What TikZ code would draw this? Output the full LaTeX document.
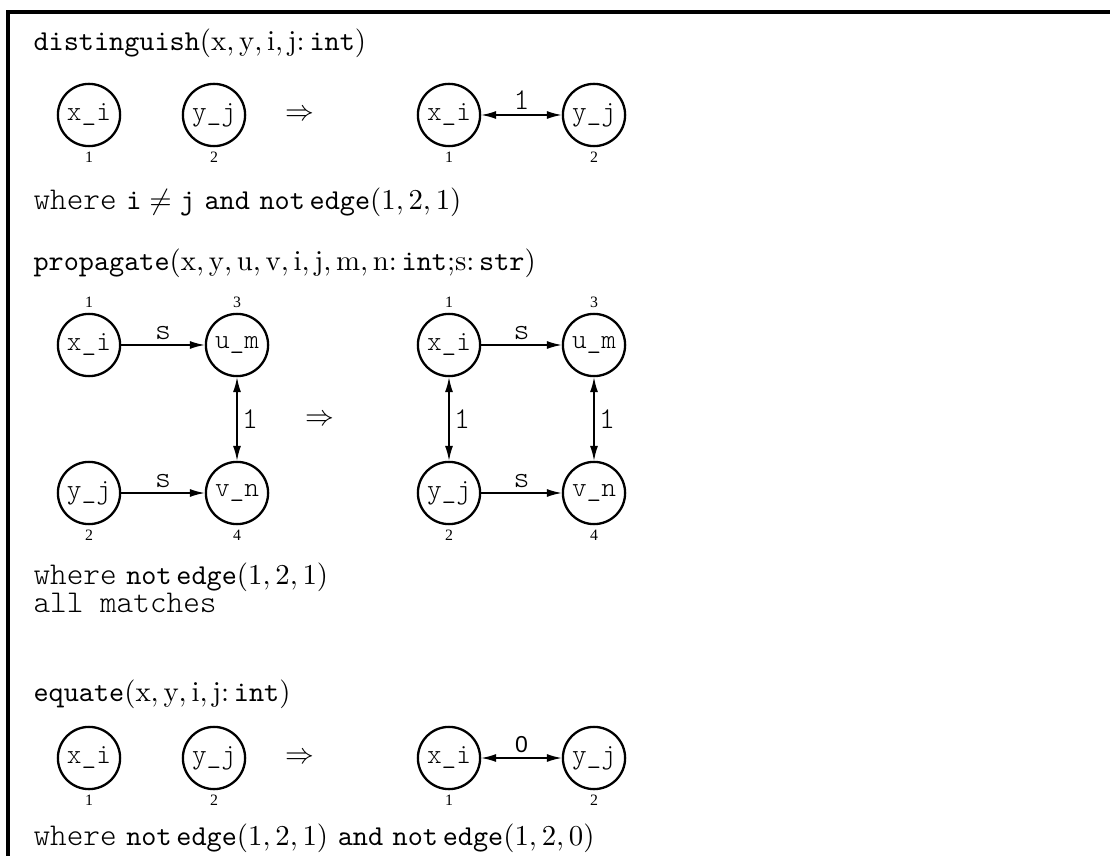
\documentclass[tikz,border=0pt]{standalone}
\usepackage{fontspec}
\newcommand\cour{\ttfamily\fontseries{l}\selectfont}
\newfontfamily\timesf{Liberation Serif}
\newfontfamily\helv{Liberation Sans}
\usetikzlibrary{arrows.meta,positioning}

\begin{document}
\begin{tikzpicture}[x=0.3472pt, y=-0.3472pt,
  gnode/.style={circle, draw, line width=0.8pt, minimum size=21.6pt, inner sep=0pt,
                font=\cour\fontsize{9.7}{11}\selectfont},
  idx/.style={inner sep=0pt, font=\timesf\fontsize{5.5}{6}\selectfont},
  elab/.style={inner sep=1.5pt, font=\cour\fontsize{10.5}{12}\selectfont},
  txt/.style={anchor=base west, inner sep=0pt},
  arr/.style={line width=0.5pt, -{Latex[length=5.2pt,width=2.8pt]}},
  barr/.style={line width=0.5pt, {Latex[length=5.2pt,width=2.8pt]}-{Latex[length=5.2pt,width=2.8pt]}}]
\useasboundingbox (0,0) rectangle (1110,856);
\draw[line width=1.2pt] (1110,12) -- (8,12) -- (8,856);

\node[txt] (h1) at (33,51) {\texttt{distinguish}$(\mathrm{x},\mathrm{y},\mathrm{i},\mathrm{j}\colon\mathtt{int})$};
\node[gnode] (dx) at (89,115) {x\_i};
\node[gnode] (dy) at (214,115) {y\_j};
\node (dr) at (300,115) {$\Rightarrow$};
\node[gnode] (dx') at (449,115) {x\_i};
\node[gnode] (dy') at (594,115) {y\_j};
\node[idx, below=1.5pt of dx] (dn1) {1};
\node[idx, below=1.5pt of dy] (dn2) {2};
\node[idx, below=1.5pt of dx'] (dn1') {1};
\node[idx, below=1.5pt of dy'] (dn2') {2};
\draw[barr] (dx') -- node[elab, above] (dl) {1} (dy');
\node[txt] (w1) at (33,210) {{\cour\fontsize{11}{13}\selectfont where} $\mathtt{i}\neq\mathtt{j}$ \texttt{and} \texttt{not}\,\texttt{edge}$(1,2,1)$};

\node[txt] (h2) at (33,271) {\texttt{propagate}$(\mathrm{x},\mathrm{y},\mathrm{u},\mathrm{v},\mathrm{i},\mathrm{j},\mathrm{m},\mathrm{n}\colon\mathtt{int}{;}\mathrm{s}\colon\mathtt{str})$};
\node[gnode] (px) at (89,345) {x\_i};
\node[gnode] (pu) at (237,345) {u\_m};
\node[gnode] (py) at (89,493) {y\_j};
\node[gnode] (pv) at (237,493) {v\_n};
\node (pr) at (320,420) {$\Rightarrow$};
\node[gnode] (px') at (449,345) {x\_i};
\node[gnode] (pu') at (594,345) {u\_m};
\node[gnode] (py') at (449,493) {y\_j};
\node[gnode] (pv') at (594,493) {v\_n};
\node[idx, above=1.5pt of px] (pn1) {1};
\node[idx, above=1.5pt of pu] (pn3) {3};
\node[idx, below=1.5pt of py] (pn2) {2};
\node[idx, below=1.5pt of pv] (pn4) {4};
\node[idx, above=1.5pt of px'] (pn1') {1};
\node[idx, above=1.5pt of pu'] (pn3') {3};
\node[idx, below=1.5pt of py'] (pn2') {2};
\node[idx, below=1.5pt of pv'] (pn4') {4};
\draw[arr] (px) -- node[elab, above] (ps1) {s} (pu);
\draw[arr] (py) -- node[elab, above] (ps2) {s} (pv);
\draw[barr] (pu) -- node[elab, right] (pl1) {1} (pv);
\draw[arr] (px') -- node[elab, above] (ps1') {s} (pu');
\draw[arr] (py') -- node[elab, above] (ps2') {s} (pv');
\draw[barr] (px') -- node[elab, right] (pl2') {1} (py');
\draw[barr] (pu') -- node[elab, right] (pl1') {1} (pv');
\node[txt] (w2) at (33,584) {{\cour\fontsize{11}{13}\selectfont where} \texttt{not}\,\texttt{edge}$(1,2,1)$};
\node[txt] (w2b) at (33,612) {\cour\fontsize{11}{13}\selectfont all matches};

\node[txt] (h3) at (33,701) {\texttt{equate}$(\mathrm{x},\mathrm{y},\mathrm{i},\mathrm{j}\colon\mathtt{int})$};
\node[gnode] (ex) at (89,758) {x\_i};
\node[gnode] (ey) at (214,758) {y\_j};
\node (er) at (300,758) {$\Rightarrow$};
\node[gnode] (ex') at (449,758) {x\_i};
\node[gnode] (ey') at (594,758) {y\_j};
\node[idx, below=1.5pt of ex] (en1) {1};
\node[idx, below=1.5pt of ey] (en2) {2};
\node[idx, below=1.5pt of ex'] (en1') {1};
\node[idx, below=1.5pt of ey'] (en2') {2};
\draw[barr] (ex') -- node[elab, above, font=\helv\fontsize{8}{10}\selectfont] (el) {0} (ey');
\node[txt] (w3) at (33,845) {{\cour\fontsize{11}{13}\selectfont where} \texttt{not}\,\texttt{edge}$(1,2,1)$ \texttt{and} \texttt{not}\,\texttt{edge}$(1,2,0)$};
\end{tikzpicture}
\end{document}
